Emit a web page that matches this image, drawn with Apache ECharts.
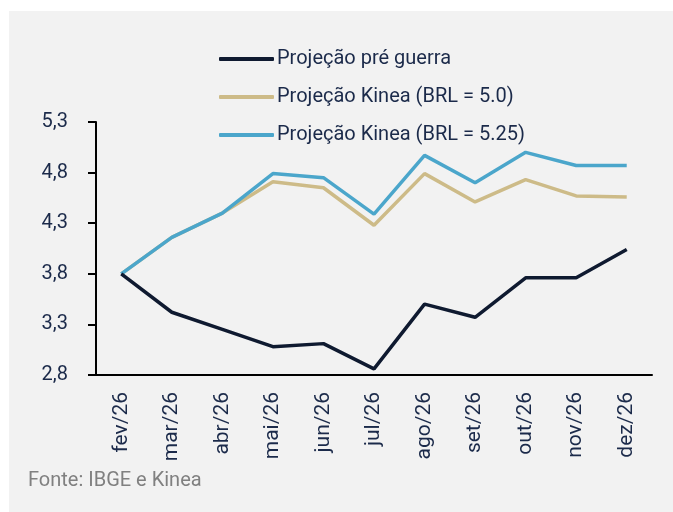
<!DOCTYPE html>
<html>
<head>
<meta charset="utf-8">
<script src="https://cdn.jsdelivr.net/npm/echarts@6/dist/echarts.min.js"></script>
<style>
  html, body { margin: 0; padding: 0; background: #fff; }
  #chart { width: 673px; height: 512px; }
</style>
</head>
<body>
<div id="chart"></div>
<script>
    // months
    const months = ['fev/26', 'mar/26', 'abr/26', 'mai/26', 'jun/26', 'jul/26',
                    'ago/26', 'set/26', 'out/26', 'nov/26', 'dez/26'];
    const preGuerra = [3.80, 3.42, 3.25, 3.08, 3.11, 2.86, 3.50, 3.37, 3.76, 3.76, 4.04];
    const kinea50   = [3.80, 4.16, 4.40, 4.71, 4.65, 4.28, 4.79, 4.51, 4.73, 4.57, 4.56];
    const kinea525  = [3.80, 4.16, 4.40, 4.79, 4.75, 4.39, 4.97, 4.70, 5.00, 4.87, 4.87];

    const navy = '#1b2a4a';
    const font = 'Roboto';

    const chart = echarts.init(document.getElementById('chart'));

    let option = {
        animation: false,
        textStyle: { fontFamily: font },
        graphic: [
            {
                type: 'rect',
                left: 9, top: 11,
                shape: { width: 664, height: 501 },
                style: { fill: '#f2f2f2' },
                z: -10
            },
            {
                type: 'text',
                left: 28, top: 471,
                style: {
                    text: 'Fonte: IBGE e Kinea',
                    fill: '#808080',
                    font: '20px ' + font
                }
            }
        ],
        legend: {
            orient: 'vertical',
            left: 214,
            top: 44,
            icon: 'roundRect',
            itemWidth: 55,
            itemHeight: 4,
            itemGap: 18,
            textStyle: { fontSize: 20, lineHeight: 20, color: navy, padding: [0, 0, 0, -2] },
            data: ['Projeção pré guerra', 'Projeção Kinea (BRL = 5.0)', 'Projeção Kinea (BRL = 5.25)']
        },
        grid: {
            left: 96,
            right: 21,
            top: 122,
            bottom: 137
        },
        xAxis: {
            type: 'category',
            data: months,
            boundaryGap: true,
            axisLine: { lineStyle: { color: '#000', width: 2 } },
            axisTick: { length: 8, lineStyle: { color: '#000', width: 2 } },
            axisLabel: {
                rotate: 90,
                fontSize: 21,
                color: navy,
                margin: 17,
                interval: 0
            }
        },
        yAxis: {
            type: 'value',
            min: 2.8,
            max: 5.3,
            interval: 0.5,
            splitLine: { show: false },
            axisLine: { show: true, lineStyle: { color: '#000', width: 2 } },
            axisTick: { show: true, length: 8, lineStyle: { color: '#000', width: 2 } },
            axisLabel: {
                fontSize: 20,
                color: navy,
                margin: 28,
                formatter: (v) => v.toFixed(1).replace('.', ',')
            }
        },
        series: [
            {
                name: 'Projeção pré guerra',
                type: 'line',
                data: preGuerra,
                symbol: 'none',
                z: 3,
                lineStyle: { color: '#0f1a30', width: 3.5 },
                itemStyle: { color: '#0f1a30' }
            },
            {
                name: 'Projeção Kinea (BRL = 5.0)',
                type: 'line',
                data: kinea50,
                symbol: 'none',
                z: 2,
                lineStyle: { color: '#cdbb88', width: 3.5 },
                itemStyle: { color: '#cdbb88' }
            },
            {
                name: 'Projeção Kinea (BRL = 5.25)',
                type: 'line',
                data: kinea525,
                symbol: 'none',
                z: 2,
                lineStyle: { color: '#4ba6cb', width: 3.5 },
                itemStyle: { color: '#4ba6cb' }
            }
        ]
    };

    chart.setOption(option);
</script>
</body>
</html>
